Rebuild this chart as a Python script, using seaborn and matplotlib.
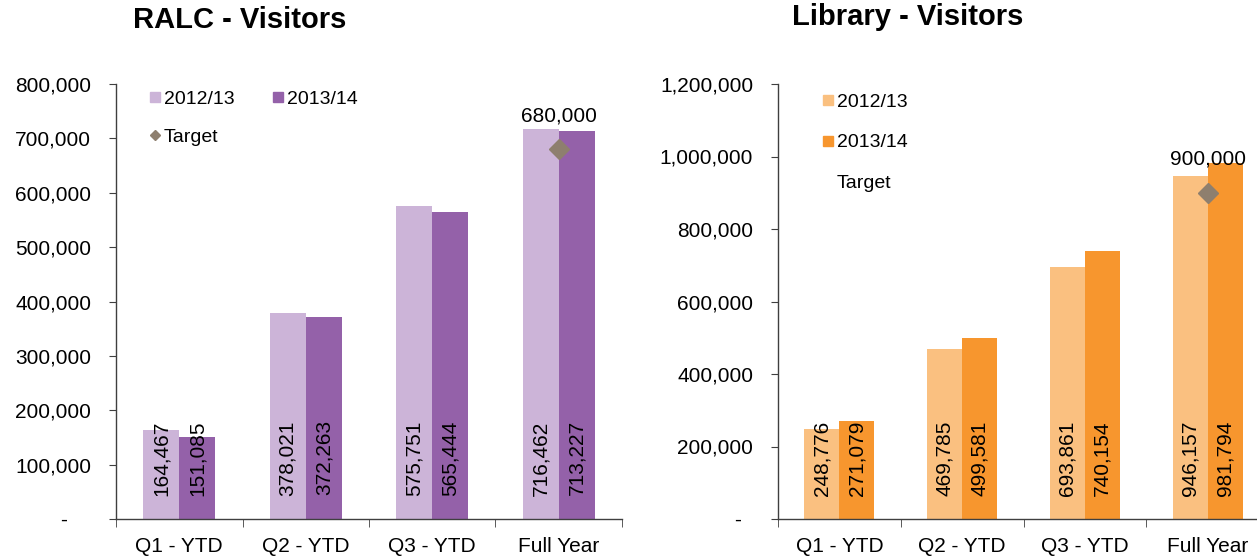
import pandas as pd
import seaborn as sns
import matplotlib.pyplot as plt
from matplotlib.lines import Line2D
from matplotlib.ticker import FuncFormatter

# Chart data
quarters = ["Q1 - YTD", "Q2 - YTD", "Q3 - YTD", "Full Year"]
years = ["2012/13", "2013/14"]

ralc_1213 = [164467, 378021, 575751, 716462]
ralc_1314 = [151085, 372263, 565444, 713227]
ralc_target = 680000

lib_1213 = [248776, 469785, 693861, 946157]
lib_1314 = [271079, 499581, 740154, 981794]
lib_target = 900000

ralc_colors = ["#CCB4D8", "#9461A9"]
lib_colors = ["#FAC080", "#F7962E"]
target_color = "#8E7F6E"
axis_color = "#3F3F3F"

sns.set_style("ticks")
plt.rcParams["font.family"] = ["Liberation Sans", "DejaVu Sans"]
plt.rcParams["text.color"] = "black"
plt.rcParams["xtick.labelcolor"] = "black"
plt.rcParams["ytick.labelcolor"] = "black"

W, H = 1257, 556
fig = plt.figure(figsize=(W / 100, H / 100), dpi=100)
ax1 = fig.add_axes([116 / W, 37 / H, 506 / W, 435 / H])
ax2 = fig.add_axes([778 / W, 37 / H, 491 / W, 435 / H])


def draw(ax, v1, v2, target, colors, ymax, step, zero_label):
    df = pd.DataFrame({
        "quarter": quarters * 2,
        "year": [years[0]] * 4 + [years[1]] * 4,
        "visitors": v1 + v2,
    })
    sns.barplot(data=df, x="quarter", y="visitors", hue="year", palette=colors,
                width=0.57, saturation=1, errorbar=None, legend=False,
                linewidth=0, ax=ax)

    # values written upright inside the base of each bar
    for cont, vals in zip(ax.containers, [v1, v2]):
        for bar, v in zip(cont, vals):
            ax.annotate(f"{v:,}", (bar.get_x() + bar.get_width() / 2, 0),
                        xytext=(0, 44), textcoords="offset points",
                        rotation=90, ha="center", va="center", fontsize=15)

    # target marker on the full year
    ax.plot([3], [target], ls="none", marker="D", ms=10, color=target_color)
    ax.annotate(f"{target:,}", (3, target), xytext=(0, 24),
                textcoords="offset points", ha="center", va="center", fontsize=15)

    ax.set_xlim(-0.5, 3.5)
    ax.set_ylim(0, ymax)
    ax.set_yticks(range(0, ymax + 1, step))
    ax.yaxis.set_major_formatter(FuncFormatter(
        lambda v, _: zero_label if v == 0 else f"{int(v):,}"))
    ax.set_xticks([-0.5, 0.5, 1.5, 2.5, 3.5], minor=True)
    ax.tick_params(axis="x", which="major", length=0, pad=13, labelsize=15)
    ax.tick_params(axis="x", which="minor", length=6, color=axis_color)
    ax.tick_params(axis="y", length=5, pad=13, labelsize=15, color=axis_color)
    ax.set_xlabel("")
    ax.set_ylabel("")
    sns.despine(ax=ax)
    for s in ["left", "bottom"]:
        ax.spines[s].set_color(axis_color)
        ax.spines[s].set_linewidth(1)


draw(ax1, ralc_1213, ralc_1314, ralc_target, ralc_colors, 800000, 100000, "-    ")
draw(ax2, lib_1213, lib_1314, lib_target, lib_colors, 1200000, 200000, "-  ")

# legends
h1 = [
    Line2D([], [], ls="none", marker="s", ms=7, color=ralc_colors[0], label=years[0]),
    Line2D([], [], ls="none", marker="D", ms=5.5, color=target_color, label="Target"),
    Line2D([], [], ls="none", marker="s", ms=7, color=ralc_colors[1], label=years[1]),
]
ax1.legend(handles=h1, ncol=2, loc="upper left", bbox_to_anchor=(0.067, 0.986),
           frameon=False, fontsize=14, handlelength=0.5, handletextpad=0.2,
           columnspacing=2.0, labelspacing=1.05, borderaxespad=0, borderpad=0)

h2 = [
    Line2D([], [], ls="none", marker="s", ms=7, color=lib_colors[0], label=years[0]),
    Line2D([], [], ls="none", marker="s", ms=7, color=lib_colors[1], label=years[1]),
    Line2D([], [], ls="none", marker="D", ms=5.5, color="none", label="Target"),
]
ax2.legend(handles=h2, loc="upper left", bbox_to_anchor=(0.092, 0.978),
           frameon=False, fontsize=14, handlelength=0.5, handletextpad=0.2,
           labelspacing=1.16, borderaxespad=0, borderpad=0)

fig.text(240 / W, 1 - 20 / H, "RALC - Visitors", ha="center", va="center",
         fontsize=21, fontweight="bold")
fig.text(908 / W, 1 - 17 / H, "Library - Visitors", ha="center", va="center",
         fontsize=21, fontweight="bold")

fig.savefig("out.png", dpi=100)
